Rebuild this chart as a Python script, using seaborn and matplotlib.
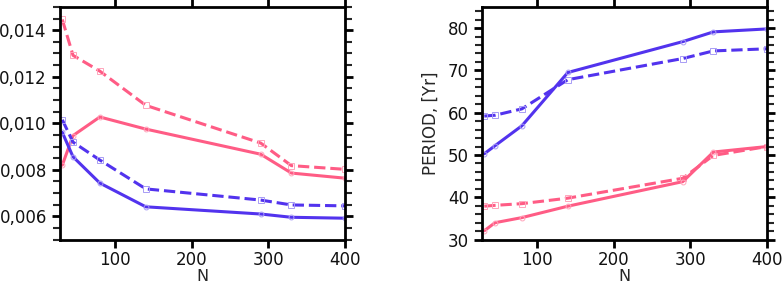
import numpy as np
import pandas as pd
import matplotlib
matplotlib.use("Agg")
import matplotlib.pyplot as plt
import seaborn as sns
from matplotlib.ticker import MultipleLocator, FuncFormatter

# data
n_vals = [31, 45, 80, 140, 290, 330, 400]

amp_pink_dash = [0.01446, 0.01292, 0.01224, 0.01077, 0.00915, 0.00818, 0.00802]
amp_pink_solid = [0.00820, 0.00947, 0.01027, 0.00975, 0.00867, 0.00786, 0.00764]
amp_blue_dash = [0.01015, 0.00919, 0.00842, 0.00718, 0.00670, 0.00649, 0.00645]
amp_blue_solid = [0.00961, 0.00856, 0.00743, 0.00641, 0.00610, 0.00596, 0.00592]

per_blue_solid = [50.3, 52.2, 56.9, 69.5, 76.8, 79.1, 79.8]
per_blue_dash = [59.2, 59.4, 60.9, 67.8, 72.8, 74.6, 75.1]
per_pink_solid = [32.1, 34.0, 35.2, 37.9, 43.7, 50.7, 52.0]
per_pink_dash = [37.9, 38.1, 38.5, 39.8, 44.5, 49.9, 52.0]

blue = "#5233ee"
pink = "#ff5c85"
blue_m = "#a89cf5"
pink_m = "#ffa5bb"

sns.set_style("ticks")
plt.rcParams['font.family'] = ['DejaVu Sans']

fig = plt.figure(figsize=(7.83, 2.88), dpi=100)
ax1 = fig.add_axes([0.0766, 0.168, 0.364, 0.808])
ax2 = fig.add_axes([0.6156, 0.168, 0.364, 0.808])


def draw(ax, y, color, mcolor, dashed):
    df = pd.DataFrame({"N": n_vals, "v": y})
    sns.lineplot(data=df, x="N", y="v", ax=ax, color=color, lw=2.2,
                 linestyle="--" if dashed else "-",
                 marker="s" if dashed else "o", markersize=4.5 if dashed else 3.5,
                 markerfacecolor="none", markeredgecolor=mcolor,
                 markeredgewidth=0.7, dashes=(4, 2) if dashed else None)


draw(ax1, amp_pink_dash, pink, pink_m, True)
draw(ax1, amp_pink_solid, pink, pink_m, False)
draw(ax1, amp_blue_dash, blue, blue_m, True)
draw(ax1, amp_blue_solid, blue, blue_m, False)

draw(ax2, per_blue_dash, blue, blue_m, True)
draw(ax2, per_blue_solid, blue, blue_m, False)
draw(ax2, per_pink_dash, pink, pink_m, True)
draw(ax2, per_pink_solid, pink, pink_m, False)

ax1.set_ylim(0.005, 0.015)
ax1.yaxis.set_major_locator(MultipleLocator(0.002))
ax1.yaxis.set_minor_locator(MultipleLocator(0.0005))
ax1.yaxis.set_major_formatter(FuncFormatter(lambda v, p: f"{v:.3f}".replace(".", ",")))
ax1.set_ylabel("")

ax2.set_ylim(30, 85)
ax2.yaxis.set_major_locator(MultipleLocator(10))
ax2.yaxis.set_minor_locator(MultipleLocator(2))
ax2.set_ylabel("PERIOD, [Yr]", fontsize=12, labelpad=6)

for ax in (ax1, ax2):
    ax.set_xlim(28, 400)
    ax.set_xticks([100, 200, 300, 400])
    ax.set_xlabel("N", fontsize=11.5, labelpad=0)
    for s in ax.spines.values():
        s.set_linewidth(2)
        s.set_color("black")
        s.set_visible(True)
    ax.tick_params(axis="both", which="major", labelsize=12, width=2, length=6,
                   direction="out", colors="black", labelcolor="#111111")
    ax.tick_params(axis="x", which="major", top=True, pad=2)
    ax.tick_params(axis="y", which="major", right=True)
    ax.tick_params(axis="y", which="minor", width=1.5, length=5,
                   left=True, right=True, direction="out")
    ax.tick_params(axis="x", which="minor", bottom=False, top=False)

fig.savefig("out.png", dpi=100)
